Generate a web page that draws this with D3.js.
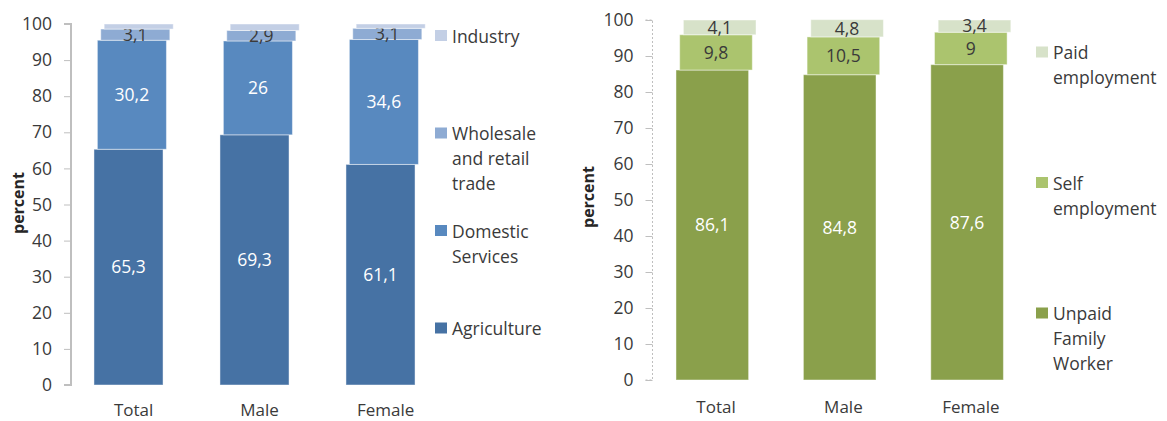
<!DOCTYPE html>
<html>
<head>
<meta charset="utf-8">
<script src="https://cdn.jsdelivr.net/npm/d3@7"></script>
<style>
  body { margin: 0; background: #fff; }
  svg { display: block; font-family: "Open Sans", sans-serif; }
</style>
</head>
<body>
<svg id="chart" width="1167" height="421"></svg>
<script>
// Data
const categories = ["Total", "Male", "Female"];

// left panel: sector
const sectorNames = ["Agriculture", "Domestic Services", "Wholesale and retail trade", "Industry"];
const agriculture = [65.3, 69.3, 61.1];
const domestic = [30.2, 26, 34.6];
const wholesale = [3.1, 2.9, 3.1];
const industry = [1.4, 1.8, 1.2];

// right panel: status in employment
const statusNames = ["Unpaid Family Worker", "Self employment", "Paid employment"];
const unpaid = [86.1, 84.8, 87.6];
const selfEmp = [9.8, 10.5, 9];
const paid = [4.1, 4.8, 3.4];

const yTicks = [0, 10, 20, 30, 40, 50, 60, 70, 80, 90, 100];

const svg = d3.select("#chart");
const fmt = v => String(v).replace(".", ",");
const textCol = "#3a3a3a";

// Draw one stacked panel. Each series is nudged a bit to the right, like the original.
function panel(opt) {
    const x = d3.scaleBand().domain(categories)
        .range(opt.xRange).paddingInner(opt.padIn).paddingOuter(opt.padIn / 2);
    const y = d3.scaleLinear().domain([0, 100]).range(opt.yRange);
    const g = svg.append("g");

    // axis
    const axis = d3.axisLeft(y).tickValues(yTicks).tickSize(7).tickPadding(12);
    const ax = g.append("g")
        .attr("transform", `translate(${opt.axisX},0)`)
        .call(axis);
    ax.select(".domain").attr("stroke", "#bfbfbf").attr("stroke-width", opt.dashed ? 1 : 2)
        .attr("stroke-dasharray", opt.dashed ? "2,2" : null)
        .attr("d", `M-7,${y(100)}H0V${y(0)}H-7`);
    ax.selectAll(".tick line").attr("stroke", "#bfbfbf");
    ax.selectAll(".tick text").attr("fill", textCol).style("font-size", "17.5px")
        .style("font-family", "'Open Sans', sans-serif");

    g.append("text")
        .attr("transform", `translate(${opt.titleX},${opt.titleY}) rotate(-90)`)
        .attr("text-anchor", "middle")
        .attr("fill", "#262626")
        .style("font-size", "16px").style("font-weight", "bold")
        .text("percent");

    // stacking
    const rows = categories.map((c, i) => {
        const r = {cat: c};
        opt.series.forEach((s, k) => r[k] = s.values[i]);
        return r;
    });
    const stack = d3.stack().keys(opt.series.map((s, k) => k))(rows);
    const bw = x.bandwidth();

    stack.forEach((layer, k) => {
        const s = opt.series[k];
        const off = k * opt.shift;
        g.append("g").selectAll("rect").data(layer).join("rect")
            .attr("x", d => x(d.data.cat) + off)
            .attr("y", d => y(d[1]))
            .attr("width", bw)
            .attr("height", d => y(d[0]) - y(d[1]))
            .attr("fill", s.color)
            .attr("stroke", "rgba(255,255,255,0.45)")
            .attr("stroke-width", 1);
        if (s.label) {
            g.append("g").selectAll("text").data(layer).join("text")
                .attr("x", d => x(d.data.cat) + off + bw / 2)
                .attr("y", d => (y(d[0]) + y(d[1])) / 2)
                .attr("dy", "0.36em")
                .attr("text-anchor", "middle")
                .attr("fill", s.label)
                .style("font-size", "17.5px")
                .text(d => fmt(d.data[k]));
        }
    });

    // category labels
    g.append("g").selectAll("text").data(categories).join("text")
        .attr("x", d => x(d) + bw / 2 + opt.shift * (opt.series.length - 1) / 2)
        .attr("y", opt.catY)
        .attr("text-anchor", "middle")
        .attr("fill", textCol)
        .style("font-size", "17px")
        .text(d => d);

    // legend, top entry = last series
    const leg = opt.series.slice().reverse();
    leg.forEach((s, i) => {
        const ly = opt.legTop + i * opt.legStep;
        g.append("rect")
            .attr("x", opt.legX).attr("y", ly)
            .attr("width", 12).attr("height", 11)
            .attr("fill", s.color);
        g.append("text")
            .attr("x", opt.legX + 17)
            .attr("y", ly + 12.5)
            .attr("fill", textCol)
            .style("font-size", "17.5px")
            .selectAll("tspan").data(s.lines).join("tspan")
            .attr("x", opt.legX + 17)
            .attr("dy", (d, j) => j ? 25 : 0)
            .text(d => d);
    });
}

panel({
    xRange: [65.5, 443.5], padIn: 0.452, yRange: [385, 24], axisX: 71,
    shift: 3.4, dashed: false, titleX: 24, titleY: 203, catY: 416,
    legX: 435, legTop: 30, legStep: 97.5,
    series: [
        {values: agriculture, color: "#4672a4", label: "#fff", lines: ["Agriculture"]},
        {values: domestic, color: "#5889bf", label: "#fff", lines: ["Domestic", "Services"]},
        {values: wholesale, color: "#8eabd3", label: textCol, lines: ["Wholesale", "and retail", "trade"]},
        {values: industry, color: "#c3cfe5", label: null, lines: ["Industry"]}
    ]
});

panel({
    xRange: [648.6, 1030.8], padIn: 0.43, yRange: [380, 20], axisX: 652.5,
    shift: 3.7, dashed: true, titleX: 594, titleY: 197, catY: 413,
    legX: 1036, legTop: 46.5, legStep: 130.5,
    series: [
        {values: unpaid, color: "#8aa04b", label: "#fff", lines: ["Unpaid", "Family", "Worker"]},
        {values: selfEmp, color: "#abc46e", label: textCol, lines: ["Self", "employment"]},
        {values: paid, color: "#d7e2c9", label: textCol, lines: ["Paid", "employment"]}
    ]
});
</script>
</body>
</html>
